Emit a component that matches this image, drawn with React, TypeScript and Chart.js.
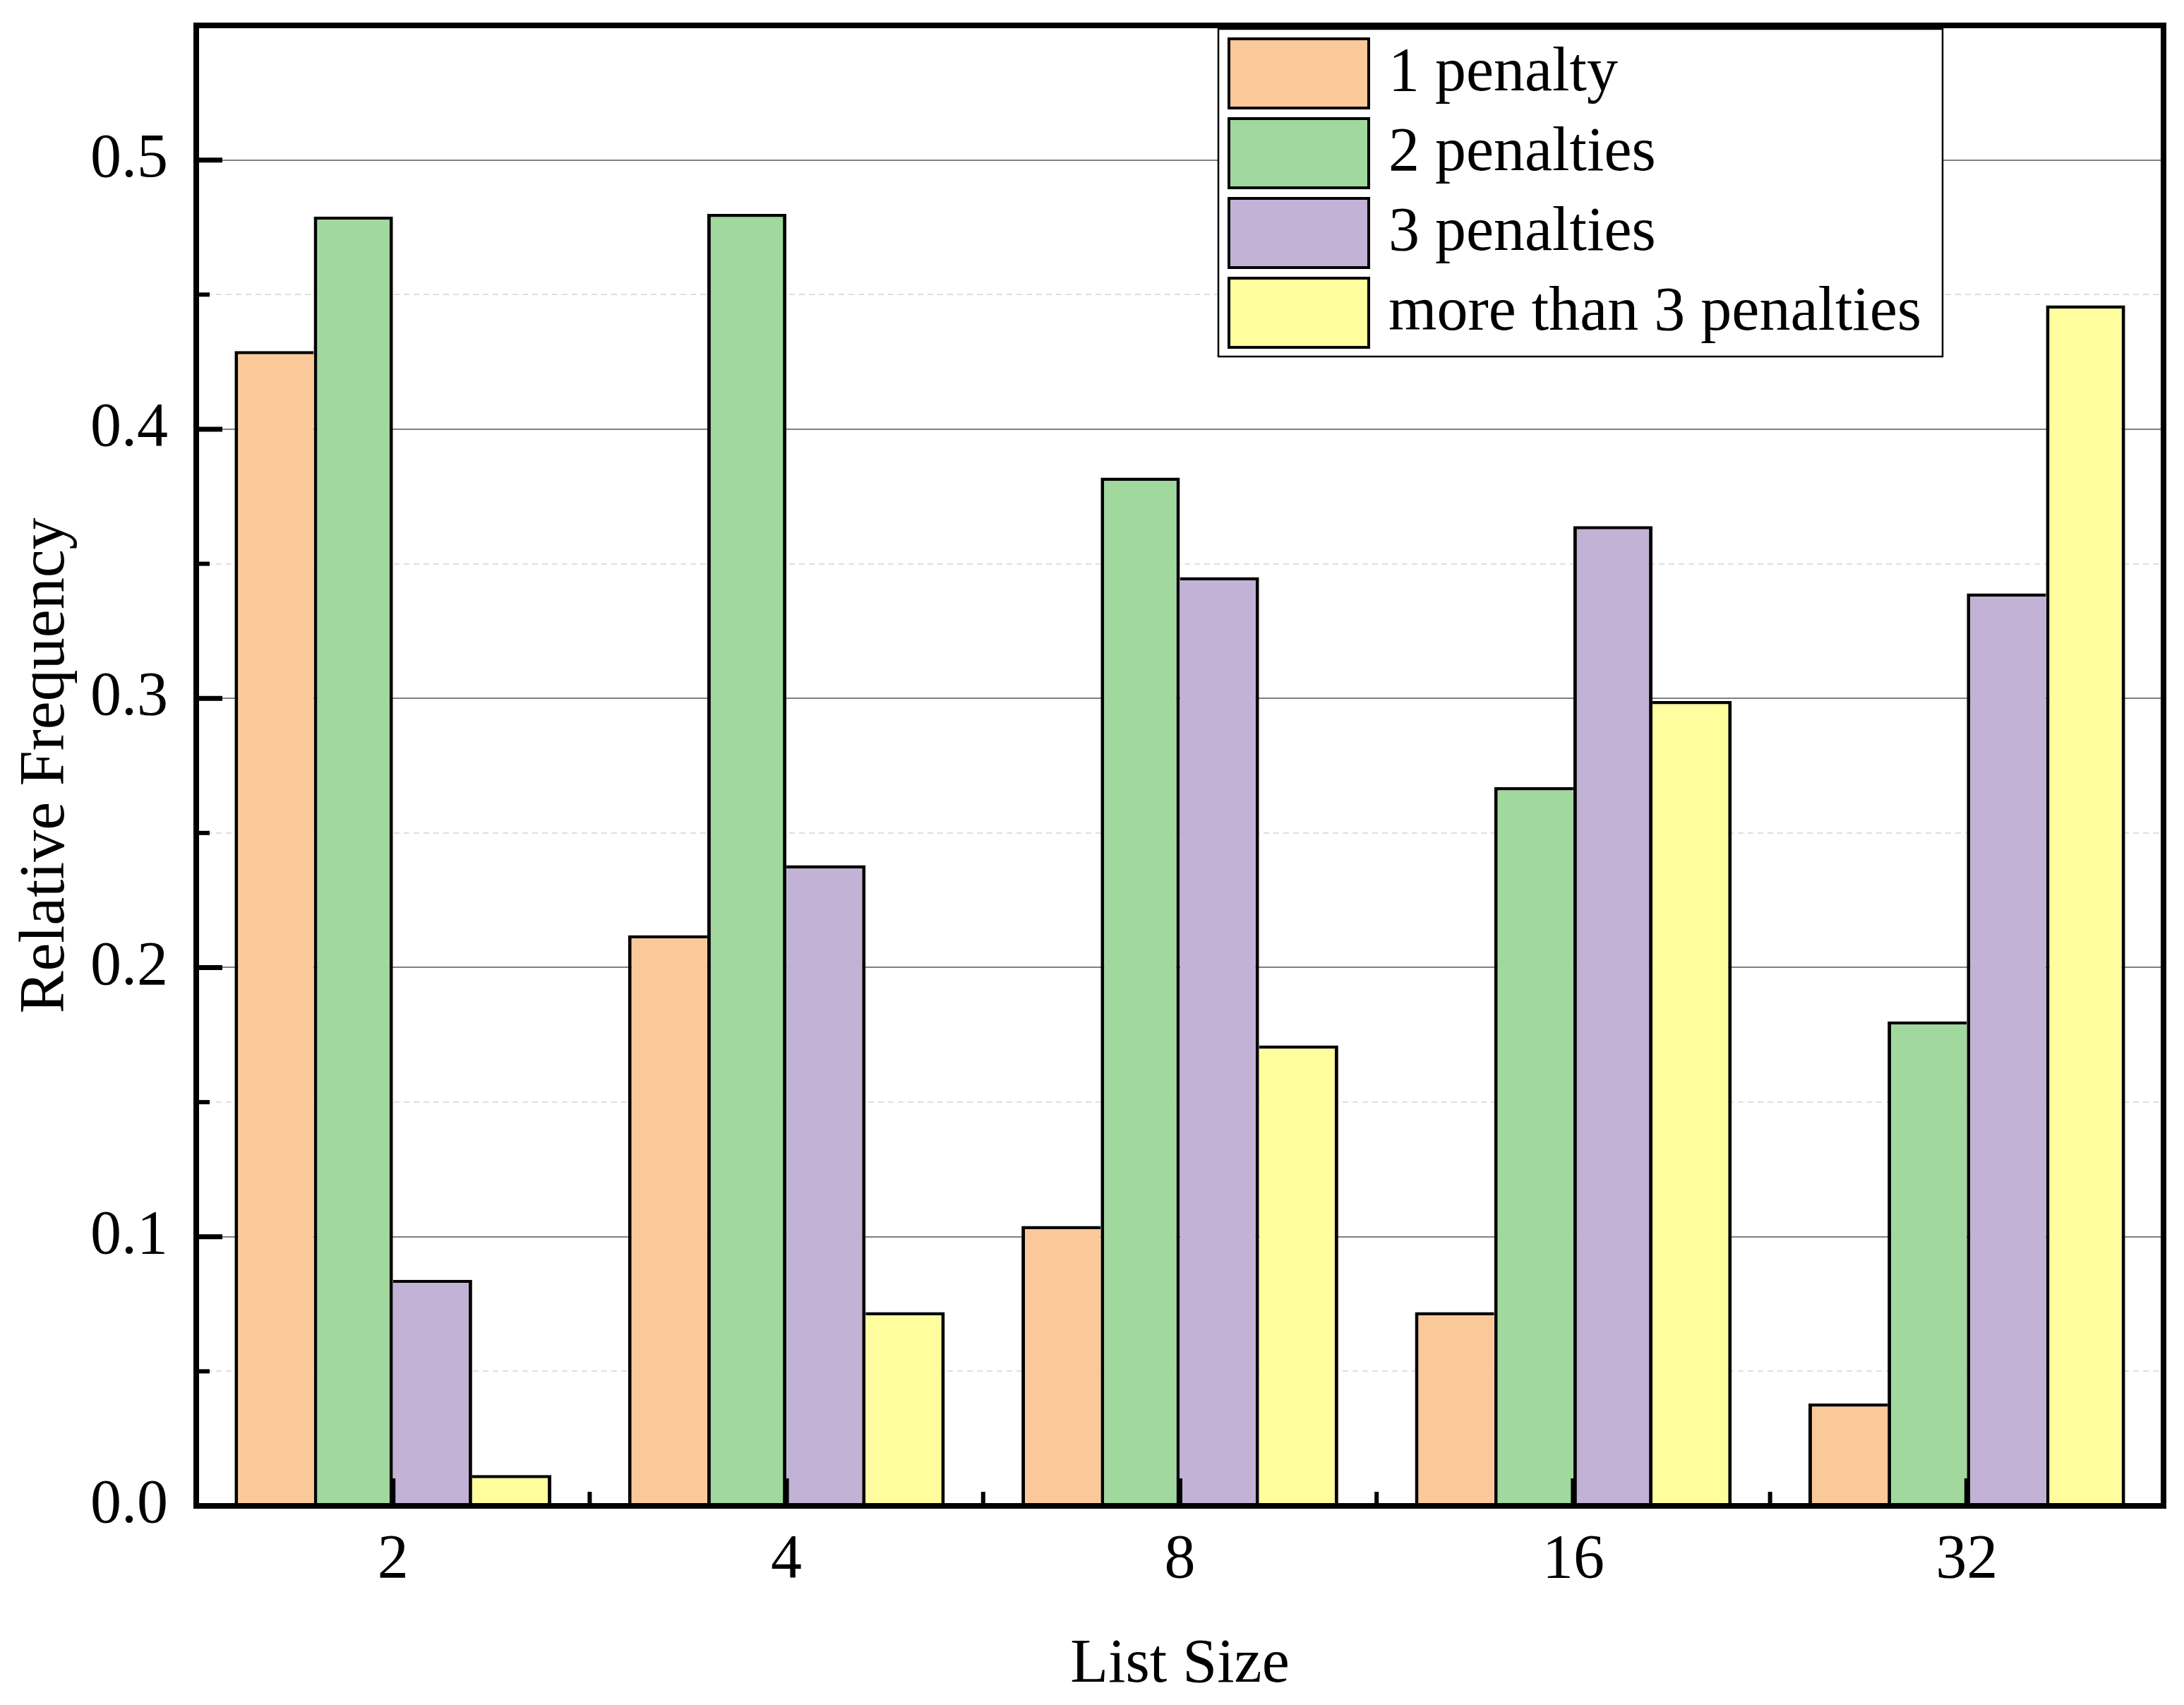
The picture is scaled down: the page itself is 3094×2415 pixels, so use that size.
import React, { useEffect, useRef } from "react";
import { Chart, registerables } from "chart.js";

Chart.register(...registerables);

// ---- data ----
const categories = ["2", "4", "8", "16", "32"];
const seriesLabels = ["1 penalty", "2 penalties", "3 penalties", "more than 3 penalties"];
const onePenalty = [0.429, 0.212, 0.104, 0.072, 0.038];
const twoPenalties = [0.479, 0.480, 0.382, 0.267, 0.180];
const threePenalties = [0.084, 0.238, 0.345, 0.364, 0.339];
const moreThanThree = [0.0115, 0.072, 0.171, 0.299, 0.446];
const seriesColors = ["#FBC999", "#A0D89E", "#C2B2D6", "#FFFD9D"];
const yMin = 0;
const yMax = 0.55;
const yStep = 0.05;
const xTitle = "List Size";
const yTitle = "Relative Frequency";

const allSeries = [onePenalty, twoPenalties, threePenalties, moreThanThree];
const FONT = "'Liberation Serif', 'Times New Roman', serif";

const isMajor = (v: number) => Math.abs(v * 10 - Math.round(v * 10)) < 1e-6;

const decorPlugin = {
  id: "decor",
  beforeDatasetsDraw(chart: any) {
    const { ctx, chartArea: a, scales } = chart;
    const y = scales.y;
    ctx.save();
    y.ticks.forEach((t: any) => {
      const v = t.value;
      if (v <= yMin + 1e-9 || v >= yMax - 1e-9) return;
      const py = Math.round(y.getPixelForValue(v));
      ctx.beginPath();
      if (isMajor(v)) {
        ctx.strokeStyle = "#808080";
        ctx.lineWidth = 2;
        ctx.setLineDash([]);
      } else {
        ctx.strokeStyle = "#d4d4d4";
        ctx.lineWidth = 1.5;
        ctx.setLineDash([8, 6]);
      }
      ctx.moveTo(a.left, py);
      ctx.lineTo(a.right, py);
      ctx.stroke();
    });
    ctx.restore();
  },
  afterDatasetsDraw(chart: any) {
    const { ctx, chartArea: a, scales } = chart;
    const x = scales.x;
    const y = scales.y;
    ctx.save();
    ctx.strokeStyle = "#000";
    ctx.setLineDash([]);
    ctx.lineCap = "butt";
    // y ticks (inward)
    y.ticks.forEach((t: any) => {
      const v = t.value;
      if (v <= yMin + 1e-9 || v >= yMax - 1e-9) return;
      const py = y.getPixelForValue(v);
      const major = isMajor(v);
      ctx.lineWidth = major ? 7 : 6;
      ctx.beginPath();
      ctx.moveTo(a.left, py);
      ctx.lineTo(a.left + (major ? 37 : 19), py);
      ctx.stroke();
    });
    // x ticks (inward): major at centers, minor at boundaries
    const n = categories.length;
    for (let i = 0; i < n; i++) {
      const px = x.getPixelForValue(i);
      ctx.lineWidth = 7;
      ctx.beginPath();
      ctx.moveTo(px, a.bottom);
      ctx.lineTo(px, a.bottom - 39);
      ctx.stroke();
      if (i < n - 1) {
        const pb = (px + x.getPixelForValue(i + 1)) / 2;
        ctx.lineWidth = 6;
        ctx.beginPath();
        ctx.moveTo(pb, a.bottom);
        ctx.lineTo(pb, a.bottom - 20);
        ctx.stroke();
      }
    }
    // frame
    ctx.lineWidth = 8;
    ctx.strokeRect(a.left, a.top, a.right - a.left, a.bottom - a.top);
    ctx.restore();
  },
  afterDraw(chart: any) {
    const { ctx } = chart;
    const lx = 1726, ly = 41, lw = 1026, lh = 464;
    ctx.save();
    ctx.fillStyle = "#fff";
    ctx.fillRect(lx, ly, lw, lh);
    ctx.strokeStyle = "#000";
    ctx.lineWidth = 2.5;
    ctx.strokeRect(lx, ly, lw, lh);
    ctx.font = `88px ${FONT}`;
    ctx.textBaseline = "middle";
    ctx.textAlign = "left";
    chart.data.datasets.forEach((ds: any, i: number) => {
      const top = 53 + i * 113;
      ctx.fillStyle = ds.backgroundColor;
      ctx.fillRect(1741, top + 2, 198, 98);
      ctx.lineWidth = 4;
      ctx.strokeStyle = "#000";
      ctx.strokeRect(1741, top + 2, 198, 98);
      ctx.fillStyle = "#000";
      ctx.fillText(ds.label, 1967, top + 52);
    });
    ctx.restore();
  },
};

export default function App() {
  const ref = useRef<HTMLCanvasElement>(null);
  useEffect(() => {
    const chart = new Chart(ref.current as HTMLCanvasElement, {
      type: "bar",
      data: {
        labels: categories,
        datasets: allSeries.map((s, i) => ({
          label: seriesLabels[i],
          data: s,
          backgroundColor: seriesColors[i],
          borderColor: "#000",
          borderSkipped: false,
          borderWidth: (c: any) => {
            const di = c.datasetIndex;
            const j = c.dataIndex;
            if (j === undefined || di === undefined) return 5;
            const v = allSeries[di][j];
            const left = di === 0 || allSeries[di - 1][j] <= v ? 5 : 0;
            const right = di === allSeries.length - 1 || allSeries[di + 1][j] < v ? 5 : 0;
            return { top: 4.5, left, right, bottom: 0 };
          },
          categoryPercentage: 0.805,
          barPercentage: 1.0,
        })),
      },
      options: {
        animation: false,
        responsive: true,
        maintainAspectRatio: false,
        devicePixelRatio: 1,
        layout: { padding: { left: 0, top: 36, right: 29, bottom: 0 } },
        plugins: {
          legend: { display: false },
          tooltip: { enabled: false },
        },
        scales: {
          x: {
            type: "category",
            grid: { display: false, drawTicks: false },
            border: { display: false },
            ticks: {
              color: "#000",
              font: { family: FONT, size: 88 },
              padding: 25,
              maxRotation: 0,
              autoSkip: false,
            },
            title: {
              display: true,
              text: xTitle,
              color: "#000",
              font: { family: FONT, size: 88, lineHeight: 1.2 },
              padding: { top: 0, bottom: 3 },
            },
            afterFit: (s: any) => {
              s.height = 282;
              s.paddingLeft = 0;
              s.paddingRight = 0;
            },
          },
          y: {
            type: "linear",
            min: yMin,
            max: yMax,
            grid: { display: false, drawTicks: false },
            border: { display: false },
            ticks: {
              stepSize: yStep,
              color: "#000",
              font: { family: FONT, size: 88 },
              padding: 40,
              callback: (v: any) => (isMajor(Number(v)) && Number(v) <= 0.5 + 1e-9 ? Number(v).toFixed(1) : ""),
            },
            title: {
              display: true,
              text: yTitle,
              color: "#000",
              font: { family: FONT, size: 90, lineHeight: 1.2 },
              padding: { top: 12, bottom: 0 },
            },
            afterFit: (s: any) => {
              s.width = 278;
              s.paddingTop = 0;
              s.paddingBottom = 0;
            },
          },
        },
      },
      plugins: [decorPlugin],
    });
    return () => chart.destroy();
  }, []);
  return (
    <div style={{ position: "fixed", left: 0, top: 0, width: 3094, height: 2415, background: "#fff" }}>
      <canvas ref={ref} />
    </div>
  );
}
